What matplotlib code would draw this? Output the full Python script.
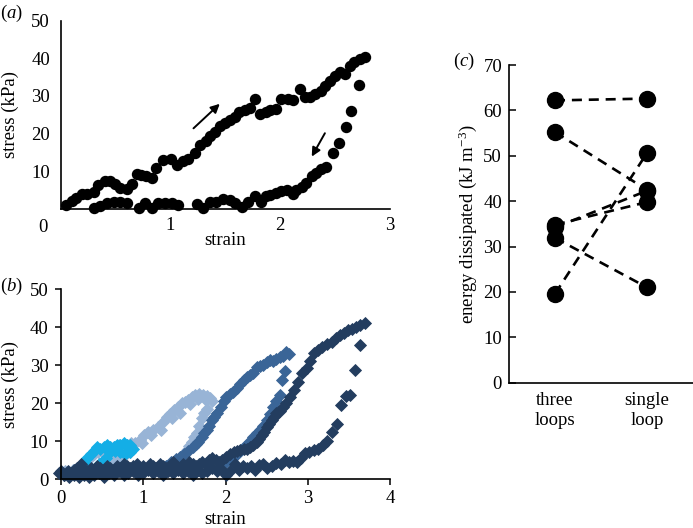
import matplotlib
matplotlib.use("Agg")
import matplotlib.pyplot as plt

plt.rcParams['font.family'] = ['Liberation Serif', 'DejaVu Serif']
plt.rcParams['mathtext.fontset'] = 'custom'
plt.rcParams['mathtext.rm'] = 'Liberation Serif'
plt.rcParams['mathtext.it'] = 'Liberation Serif:italic'
plt.rcParams['font.size'] = 13.5

# ---------------- data: panel (a) ----------------
a_load_strain = [0.05, 0.10, 0.14, 0.19, 0.24, 0.30, 0.34, 0.40, 0.45, 0.49,
                 0.54, 0.60, 0.65, 0.69, 0.73, 0.78, 0.83, 0.87, 0.93, 1.00,
                 1.06, 1.11, 1.16, 1.22, 1.27, 1.32, 1.36, 1.41, 1.45, 1.50,
                 1.54, 1.59, 1.63, 1.68, 1.73, 1.77, 1.82, 1.87, 1.91, 1.96,
                 2.01, 2.07, 2.12, 2.18, 2.23, 2.27, 2.32, 2.37, 2.41, 2.46,
                 2.50, 2.55, 2.59, 2.64, 2.68, 2.73, 2.78]
a_load_stress = [1.1, 2.0, 2.9, 3.9, 3.9, 4.4, 6.4, 7.3, 7.3, 6.7,
                 5.5, 5.3, 6.7, 9.4, 9.1, 8.8, 8.2, 10.9, 12.9, 13.3,
                 11.8, 12.7, 13.2, 14.9, 16.9, 18.0, 19.3, 20.4, 22.0, 22.7,
                 23.6, 24.5, 25.6, 26.3, 26.9, 29.1, 25.1, 25.7, 26.2, 26.5,
                 29.1, 29.1, 29.0, 31.8, 29.6, 29.8, 30.5, 31.4, 32.7, 34.0,
                 35.4, 36.3, 35.8, 38.0, 39.0, 39.7, 40.3]
a_unload_strain = [2.72, 2.65, 2.60, 2.54, 2.48, 2.42, 2.37, 2.33, 2.29, 2.24,
                   2.20, 2.15, 2.12, 2.06, 2.01, 1.96, 1.91, 1.87, 1.83, 1.77,
                   1.71, 1.65, 1.59, 1.54, 1.48, 1.42, 1.36, 1.30, 1.24, 1.07,
                   1.01, 0.95, 0.89, 0.83, 0.77, 0.71, 0.60, 0.54, 0.48, 0.42,
                   0.36, 0.30]
a_unload_stress = [32.9, 26.1, 21.7, 17.6, 14.8, 11.2, 10.6, 9.5, 8.8, 6.8,
                   5.9, 5.0, 4.0, 5.0, 4.7, 4.2, 3.8, 3.4, 1.9, 3.4,
                   1.9, 0.6, 1.5, 2.4, 2.7, 1.9, 1.9, 0.2, 1.3, 1.0,
                   1.6, 1.6, 1.6, 0.2, 1.5, 0.2, 1.5, 1.9, 1.9, 1.5,
                   0.8, 0.2]

# ---------------- data: panel (b) ----------------
b_cyan_strain = [0.28, 0.32, 0.36, 0.40, 0.44, 0.48, 0.52, 0.56, 0.60, 0.64,
                 0.68, 0.72, 0.76, 0.80, 0.84, 0.88, 0.84, 0.78, 0.72, 0.66,
                 0.60, 0.55, 0.50, 0.46]
b_cyan_stress = [4.5, 5.5, 6.5, 7.5, 8.5, 8.0, 8.5, 9.0, 8.5, 8.5,
                 9.0, 9.0, 9.5, 9.0, 9.0, 8.0, 7.0, 6.5, 7.0, 7.5,
                 7.0, 5.5, 4.5, 4.0]
b_light_strain = [0.00, 0.05, 0.10, 0.15, 0.20, 0.25, 0.30, 0.35, 0.40, 0.45,
                  0.50, 0.55, 0.60, 0.65, 0.70, 0.75, 0.80, 0.85, 0.90, 0.96,
                  1.01, 1.06, 1.12, 1.18, 1.24, 1.29, 1.33, 1.37, 1.42, 1.47,
                  1.51, 1.55, 1.59, 1.63, 1.68, 1.73, 1.77, 1.81, 1.84, 1.78,
                  1.74, 1.71, 1.68, 1.65, 1.62, 1.59, 1.56, 1.53, 1.49, 1.45,
                  1.39, 1.33, 1.26, 0.84, 0.79, 0.74, 0.70, 0.66, 0.62, 0.58,
                  0.98, 1.09, 1.21, 1.35, 1.45, 1.57, 1.66, 1.76]
b_light_stress = [1.5, 2.0, 1.5, 2.5, 3.0, 3.5, 4.0, 5.5, 6.5, 7.0,
                  7.5, 8.0, 8.5, 8.5, 9.0, 9.0, 9.0, 9.5, 9.5, 10.3,
                  11.5, 12.5, 13.0, 13.8, 15.0, 16.4, 17.2, 18.2, 19.0, 19.9,
                  20.3, 20.8, 21.5, 22.1, 22.3, 22.1, 21.8, 21.2, 20.5, 18.5,
                  17.5, 16.0, 14.0, 12.0, 11.0, 9.8, 8.8, 7.6, 6.5, 5.9,
                  4.6, 3.8, 3.2, 7.2, 6.5, 5.9, 5.5, 5.0, 4.5, 3.7,
                  9.5, 11.5, 13.0, 16.0, 17.5, 19.8, 21.0, 20.8]
b_medium_strain = [1.28, 1.34, 1.40, 1.45, 1.50, 1.55, 1.60, 1.64, 1.67, 1.71,
                   1.74, 1.77, 1.80, 1.83, 1.86, 1.90, 1.94, 1.98, 2.01, 2.05,
                   2.09, 2.14, 2.18, 2.22, 2.26, 2.30, 2.34, 2.38, 2.42, 2.46,
                   2.50, 2.54, 2.58, 2.62, 2.66, 2.70, 2.74, 2.77, 2.72, 2.69,
                   2.66, 2.62, 2.58, 2.54, 2.50, 2.46, 2.42, 2.38, 2.34, 2.30,
                   2.26, 2.22, 2.18, 2.14, 2.10, 2.05, 2.00]
b_medium_stress = [3.5, 4.5, 5.2, 5.9, 6.5, 7.5, 8.5, 9.2, 9.8, 11.0,
                   12.0, 12.9, 14.0, 15.5, 16.4, 17.5, 19.0, 20.5, 21.7, 22.5,
                   23.0, 23.9, 25.0, 26.0, 26.9, 27.5, 28.0, 29.6, 29.8, 30.0,
                   30.9, 31.2, 31.0, 31.7, 32.0, 32.5, 33.5, 33.0, 28.5, 26.0,
                   22.1, 20.5, 19.0, 17.0, 15.5, 14.0, 13.0, 12.0, 11.0, 10.0,
                   9.0, 8.5, 7.5, 6.5, 5.8, 5.0, 4.5]
b_navy_strain = [0.00, 0.04, 0.08, 0.12, 0.16, 0.20, 0.24, 0.28, 0.32, 0.36,
                 0.40, 0.44, 0.48, 0.52, 0.56, 0.60, 0.64, 0.68, 0.72, 0.76,
                 0.80, 0.84, 0.88, 0.92, 0.96, 1.00, 1.04, 1.08, 1.12, 1.16,
                 1.20, 1.24, 1.28, 1.32, 1.36, 1.40, 1.44, 1.48, 1.52, 1.56,
                 1.60, 1.64, 1.68, 1.72, 1.76, 1.80, 1.84, 1.88, 1.92, 1.96,
                 2.01, 2.06, 2.10, 2.14, 2.18, 2.22, 2.26, 2.30, 2.34, 2.38,
                 2.41, 2.44, 2.47, 2.50, 2.53, 2.56, 2.59, 2.62, 2.66, 2.70,
                 2.74, 2.78, 2.83, 2.88, 2.93, 2.99, 3.03, 3.07, 3.12, 3.17,
                 3.23, 3.29, 3.34, 3.39, 3.44, 3.49, 3.54, 3.59, 3.64, 3.70,
                 3.64, 3.57, 3.51, 3.46, 3.41, 3.35, 3.29, 3.24, 3.19, 3.13,
                 3.08, 3.02, 2.97, 2.92, 2.87, 2.82, 2.77, 2.72, 2.67, 2.62,
                 2.56, 2.51, 2.46, 2.41, 2.36, 2.31, 2.26, 2.21, 2.16, 2.11,
                 2.06, 2.01, 1.96, 1.90, 1.84, 1.78, 1.72, 1.66, 1.60, 1.54,
                 1.48, 1.42, 1.36, 1.30, 1.24, 1.18, 1.12, 1.06, 1.00, 0.94,
                 0.88, 0.82, 0.76, 0.70, 0.64, 0.58, 0.52, 0.46, 0.40, 0.34,
                 0.28, 0.22, 0.16, 0.10, 0.04, -0.02]
b_navy_stress = [2.0, 1.0, 2.0, 1.5, 2.5, 3.0, 4.0, 2.5, 2.0, 3.0,
                 2.5, 3.5, 3.0, 2.5, 3.5, 3.0, 2.5, 3.5, 3.0, 4.0,
                 3.5, 3.0, 3.5, 4.0, 3.0, 3.5, 3.0, 4.0, 3.5, 3.0,
                 4.0, 3.5, 3.0, 3.5, 4.5, 3.5, 3.0, 4.0, 3.5, 4.5,
                 4.0, 3.5, 4.0, 4.5, 4.0, 5.0, 5.5, 5.0, 4.5, 5.0,
                 5.9, 6.5, 7.2, 7.5, 7.6, 8.0, 8.0, 8.5, 9.0, 9.8,
                 10.5, 11.6, 12.5, 13.8, 14.6, 15.6, 16.4, 17.3, 18.0, 19.0,
                 19.9, 21.5, 23.4, 25.5, 27.8, 29.1, 31.0, 33.1, 34.0, 34.8,
                 35.5, 36.1, 37.0, 37.9, 38.5, 39.2, 39.5, 40.1, 40.5, 41.0,
                 35.3, 28.7, 22.1, 21.8, 19.5, 14.6, 12.4, 10.0, 9.0, 8.0,
                 7.6, 7.0, 6.8, 5.5, 4.6, 4.8, 4.5, 5.0, 4.0, 4.2,
                 3.5, 3.0, 4.0, 3.7, 2.5, 3.5, 2.9, 3.5, 2.5, 4.0,
                 2.0, 1.0, 2.5, 2.0, 3.0, 2.0, 1.5, 2.5, 1.0, 2.0,
                 1.5, 2.5, 1.5, 2.0, 1.0, 2.0, 1.5, 2.5, 1.5, 1.0,
                 2.0, 1.5, 1.0, 2.0, 1.0, 1.5, 0.5, 1.5, 1.0, 0.5,
                 1.0, 0.5, 1.0, 0.5, 1.0, 1.5]

# ---------------- data: panel (c) ----------------
c_categories = ['three\nloops', 'single\nloop']
c_three_loops = [62.2, 55.2, 34.8, 34.2, 31.9, 19.6]
c_single_loop = [62.6, 42.5, 39.8, 42.3, 21.0, 50.6]

W, H = 693, 528
fig = plt.figure(figsize=(W / 100, H / 100), dpi=100)


def frac(l, t, r, b):
    return [l / W, 1 - b / H, (r - l) / W, (b - t) / H]


# ---------------- panel (a) ----------------
axa = fig.add_axes(frac(61, 20.5, 389.5, 209))
axa.plot(a_load_strain, a_load_stress, 'o', color='black', ms=7.2, clip_on=False)
axa.plot(a_unload_strain, a_unload_stress, 'o', color='black', ms=7.2, clip_on=False)
axa.set_xlim(0, 3)
axa.set_ylim(0, 50)
axa.set_xticks([1, 2, 3])
axa.set_yticks([10, 20, 30, 40, 50])
axa.tick_params(length=0, pad=8)
axa.tick_params(axis='x', pad=6)
axa.text(-0.055, -0.054, '0', transform=axa.transAxes, ha='center', va='top')
axa.annotate('', xy=(1.45, 27.9), xytext=(1.21, 21.4),
             arrowprops=dict(arrowstyle='-|>', color='black', lw=1.4,
                             mutation_scale=13, shrinkA=0, shrinkB=0))
axa.annotate('', xy=(2.29, 13.9), xytext=(2.41, 20.1),
             arrowprops=dict(arrowstyle='-|>', color='black', lw=1.4,
                             mutation_scale=13, shrinkA=0, shrinkB=0))
axa.set_xlabel('strain')
axa.set_ylabel('stress (kPa)')
axa.xaxis.set_label_coords(0.5, -0.12)
axa.yaxis.set_label_coords(-0.128, 0.5)

# ---------------- panel (b) ----------------
axb = fig.add_axes(frac(61, 289, 390, 479))
mk = dict(marker='D', ls='none', ms=6.4, mew=0.6, clip_on=False)
axb.plot(b_light_strain, b_light_stress, color='#98b4d6', mec='#98b4d6', **mk)
axb.plot(b_medium_strain, b_medium_stress, color='#3a6597', mec='#3a6597', **mk)
axb.plot(b_cyan_strain, b_cyan_stress, color='#14aee6', mec='#14aee6', **mk)
axb.plot(b_navy_strain, b_navy_stress, color='#233d5f', mec='#233d5f', **mk)
axb.set_xlim(0, 4)
axb.set_ylim(0, 50)
axb.set_xticks([0, 1, 2, 3, 4])
axb.set_yticks([0, 10, 20, 30, 40, 50])
axb.tick_params(direction='out', length=4, width=1.1, pad=4)
axb.tick_params(axis='y', pad=5)
axb.set_xlabel('strain')
axb.set_ylabel('stress (kPa)')
axb.xaxis.set_label_coords(0.5, -0.168)
axb.yaxis.set_label_coords(-0.128, 0.5)

# ---------------- panel (c) ----------------
axc = fig.add_axes(frac(509, 65, 693, 382.7))
for v3, v1 in zip(c_three_loops, c_single_loop):
    axc.plot([1, 2], [v3, v1], ls=(0, (3.8, 2.6)), color='black', lw=1.9,
             marker='o', ms=11.5, dash_capstyle='butt')
axc.set_xlim(0.5, 2.5)
axc.set_ylim(0, 70)
axc.set_xticks([1, 2])
axc.set_xticklabels(c_categories)
axc.set_yticks(range(0, 71, 10))
axc.tick_params(axis='y', direction='in', length=5, width=1.1, pad=5)
axc.tick_params(axis='x', length=0, pad=7)
axc.set_ylabel('energy dissipated (kJ m$^{-3}$)')
axc.yaxis.set_label_coords(-0.163, 0.5)

for ax in (axa, axb, axc):
    for s in ('top', 'right'):
        ax.spines[s].set_visible(False)
    for s in ('left', 'bottom'):
        ax.spines[s].set_linewidth(1.2)

fig.text(0 / W, 1 - 3 / H, '($a$)', ha='left', va='top')
fig.text(0 / W, 1 - 276 / H, '($b$)', ha='left', va='top')
fig.text(453 / W, 1 - 51 / H, '($c$)', ha='left', va='top')

fig.savefig('out.png', dpi=100)
